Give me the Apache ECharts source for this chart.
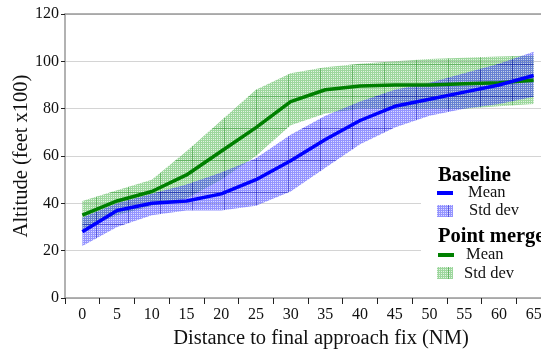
<!DOCTYPE html>
<html>
<head>
<meta charset="utf-8">
<script src="https://cdn.jsdelivr.net/npm/echarts@6/dist/echarts.min.js"></script>
<style>
  html, body { margin: 0; padding: 0; background: #fff; }
  #chart { width: 541px; height: 349px; }
</style>
</head>
<body>
<div id="chart"></div>
<script>
// Data
const distances = ['0', '5', '10', '15', '20', '25', '30', '35', '40', '45', '50', '55', '60', '65'];
const yTicks = [0, 20, 40, 60, 80, 100, 120];

const baselineMean  = [28, 37, 40, 41, 44, 50, 58, 67, 75, 81, 84, 87, 90, 94];
const baselineLower = [22, 30, 35, 37, 37, 39, 45, 55, 65, 72, 77, 80, 82, 85];
const baselineUpper = [34, 40, 44, 48, 53, 59, 69, 77, 83, 88, 91, 95, 99, 104];

const mergeMean  = [35, 41, 45, 52, 62, 72, 83, 88, 89.6, 90, 90, 90.5, 91, 92];
const mergeLower = [29, 35, 39, 42, 50, 60, 73, 78, 80, 80, 80, 80, 81, 82];
const mergeUpper = [41, 45.5, 50, 62, 75, 88, 95, 97.5, 99, 100, 101, 101.5, 102, 102.5];

const FONT = '"Liberation Serif", "DejaVu Serif", serif';

// fine mesh texture with a faint coarser grid, like the original hatching
function makePattern(mesh, gap, line) {
    const c = document.createElement('canvas');
    c.width = 32; c.height = 32;
    const g = c.getContext('2d');
    for (let y = 0; y < 32; y++) {
        for (let x = 0; x < 32; x++) {
            g.fillStyle = (x % 2 === 0 || y % 2 === 0) ? mesh : gap;
            g.fillRect(x, y, 1, 1);
        }
    }
    g.fillStyle = line;
    g.fillRect(0, 0, 1, 32);
    g.fillRect(0, 0, 32, 1);
    return c;
}

const greenPat = makePattern('rgba(60,175,60,0.5)', 'rgba(60,175,60,0.15)', 'rgba(0,120,0,0.35)');
const bluePat  = makePattern('rgba(60,60,255,0.55)', 'rgba(60,60,255,0.18)', 'rgba(0,0,170,0.4)');

const diff = (hi, lo) => hi.map((v, i) => +(v - lo[i]).toFixed(2));

function bandSeries(stack, lower, upper, pattern) {
    return [
        { type: 'line', stack, data: lower, symbol: 'none', silent: true,
          lineStyle: { opacity: 0 } },
        { type: 'line', stack, data: diff(upper, lower), symbol: 'none', silent: true,
          lineStyle: { opacity: 0 },
          areaStyle: { color: { image: pattern, repeat: 'repeat' }, opacity: 1 } },
    ];
}

const chart = echarts.init(document.getElementById('chart'), null, { renderer: 'canvas' });

chart.setOption({
    animation: false,
    grid: { left: 65, right: -10, top: 14, bottom: 51, outerBoundsMode: 'none', containLabel: false },
    xAxis: [{
        type: 'category',
        data: distances,
        boundaryGap: true,
        name: 'Distance to final approach fix (NM)',
        nameLocation: 'middle',
        nameGap: 30,
        nameTextStyle: { fontFamily: FONT, fontSize: 20.5, color: '#111', padding: [0, 0, 0, 26] },
        axisLine: { lineStyle: { color: '#999', width: 1.5 } },
        axisTick: { show: true, alignWithLabel: false, length: 6, lineStyle: { color: '#222' } },
        axisLabel: { fontFamily: FONT, fontSize: 16, color: '#111', margin: 9 },
        splitLine: { show: false },
    }, {
        type: 'category',
        data: distances,
        position: 'top',
        axisLine: { lineStyle: { color: '#999', width: 1.5 } },
        axisTick: { show: false },
        axisLabel: { show: false },
    }],
    yAxis: {
        type: 'value',
        min: yTicks[0],
        max: yTicks[yTicks.length - 1],
        interval: 20,
        name: 'Altitude (feet x100)',
        nameLocation: 'middle',
        nameGap: 33,
        nameMoveOverlap: false,
        nameTextStyle: { fontFamily: FONT, fontSize: 20.5, color: '#111' },
        axisLine: { show: true, lineStyle: { color: '#999', width: 1.5 } },
        axisTick: { show: true, length: 4, lineStyle: { color: '#222' } },
        axisLabel: { fontFamily: FONT, fontSize: 16, color: '#111', margin: 6 },
        splitLine: { show: true, lineStyle: { color: '#d4d4d4', width: 1 } },
    },
    series: [
        ...bandSeries('merge', mergeLower, mergeUpper, greenPat),
        ...bandSeries('base', baselineLower, baselineUpper, bluePat),
        { type: 'line', data: mergeMean, symbol: 'none',
          lineStyle: { color: '#008000', width: 3.5 } },
        { type: 'line', data: baselineMean, symbol: 'none',
          lineStyle: { color: '#0000ff', width: 3.5 } },
    ],
    graphic: [
        { type: 'rect', shape: { x: 421, y: 163, width: 130, height: 127 },
          style: { fill: '#fff' }, z: 100 },
        { type: 'text', x: 438, y: 165, z: 101,
          style: { text: 'Baseline', font: 'bold 20.5px ' + FONT, fill: '#000' } },
        { type: 'rect', shape: { x: 437, y: 191, width: 16, height: 4 },
          style: { fill: '#0000ff' }, z: 101 },
        { type: 'text', x: 468, y: 184, z: 101,
          style: { text: 'Mean', font: '16.5px ' + FONT, fill: '#111' } },
        { type: 'rect', shape: { x: 437, y: 205, width: 16, height: 12 },
          style: { fill: { image: bluePat, repeat: 'repeat' } }, z: 101 },
        { type: 'text', x: 469, y: 202, z: 101,
          style: { text: 'Std dev', font: '16.5px ' + FONT, fill: '#111' } },
        { type: 'text', x: 438, y: 226, z: 101,
          style: { text: 'Point merge', font: 'bold 20.5px ' + FONT, fill: '#000' } },
        { type: 'rect', shape: { x: 438, y: 253, width: 16, height: 4 },
          style: { fill: '#008000' }, z: 101 },
        { type: 'text', x: 466, y: 246, z: 101,
          style: { text: 'Mean', font: '16.5px ' + FONT, fill: '#111' } },
        { type: 'rect', shape: { x: 437, y: 267, width: 16, height: 12 },
          style: { fill: { image: greenPat, repeat: 'repeat' } }, z: 101 },
        { type: 'text', x: 464, y: 265, z: 101,
          style: { text: 'Std dev', font: '16.5px ' + FONT, fill: '#111' } },
    ],
});
</script>
</body>
</html>
